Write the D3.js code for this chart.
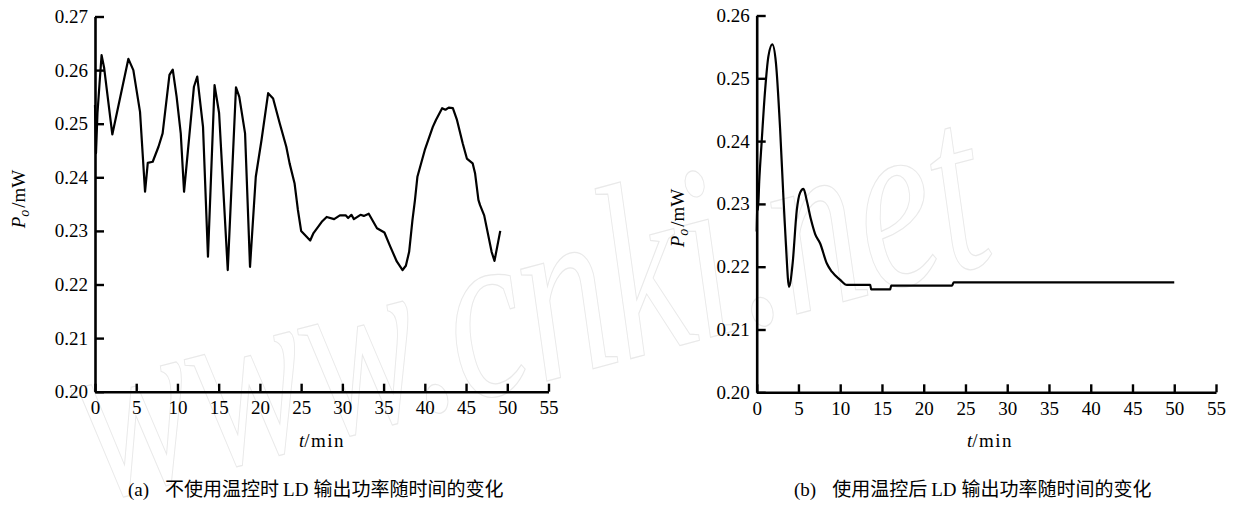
<!DOCTYPE html>
<html>
<head>
<meta charset="utf-8">
<script src="https://cdn.jsdelivr.net/npm/d3@7"></script>
<style>
  body { margin: 0; background: #fff; }
  svg { display: block; }
  .tick text { font-family: "Liberation Serif", "Times New Roman", serif; font-size: 19px; }
</style>
</head>
<body>
<div id="chart"></div>
<script>
// panel (a): without temperature control
const timeA = [0, 0.12, 0.3, 0.55, 0.8, 1.1, 2.1, 4.05, 4.65, 5.46, 6.07, 6.4, 7.0, 7.7, 8.2, 9.03, 9.43, 9.9, 10.4, 10.8,
  12.0, 12.4, 13.1, 13.7, 14.5, 15.05, 16.1, 17.1, 17.5, 18.2, 18.8, 19.5, 20.2, 21.0, 21.6, 22.4, 23.2, 23.6, 24.2, 24.6,
  25.0, 26.1, 26.5, 27.5, 28.1, 29.0, 29.7, 30.4, 30.7, 31.1, 31.4, 32.2, 32.6, 33.2, 34.2, 35.1, 35.8, 36.6, 37.3, 37.7,
  38.1, 38.5, 38.8, 39.1, 40.0, 40.97, 41.35, 42.1, 42.5, 42.9, 43.4, 43.9, 44.6, 45.1, 45.8, 46.1, 46.5, 46.7, 47.2, 48.1,
  48.45, 49.15];
const powerA = [0.2535, 0.2445, 0.2520, 0.2575, 0.2628, 0.2605, 0.2480, 0.2621, 0.2600, 0.2522, 0.2373, 0.2427, 0.2429, 0.2457, 0.2482, 0.2591, 0.2601, 0.2550, 0.2482, 0.2373,
  0.2569, 0.2588, 0.2494, 0.2252, 0.2572, 0.2520, 0.2227, 0.2568, 0.2550, 0.2482, 0.2233, 0.2401, 0.2470, 0.2557, 0.2547, 0.2501, 0.2457, 0.2426, 0.2389, 0.2340,
  0.2300, 0.2282, 0.2296, 0.2317, 0.2326, 0.2322, 0.2329, 0.2329, 0.2324, 0.2330, 0.2322, 0.2330, 0.2328, 0.2332, 0.2305, 0.2297, 0.2271, 0.2243, 0.2227, 0.2235,
  0.2261, 0.2320, 0.2357, 0.2401, 0.2451, 0.2494, 0.2507, 0.2529, 0.2526, 0.2530, 0.2529, 0.2507, 0.2463, 0.2435, 0.2426, 0.2407, 0.2358, 0.2348, 0.2329, 0.2261,
  0.2244, 0.2300];

// panel (b): with temperature control
const timeB = [0, 0.1, 0.15, 0.3, 0.6, 1.0, 1.4, 1.87, 2.3, 2.8, 3.2, 3.5, 3.87, 4.3, 4.8, 5.2, 5.6, 6.0, 6.5, 7.0,
  7.6, 8.4, 9.0, 10.0, 10.8, 13.6, 13.7, 16.0, 16.1, 23.4, 23.6, 50];
const powerB = [0.2256, 0.2315, 0.2290, 0.2335, 0.2400, 0.2480, 0.2535, 0.2554, 0.2525, 0.2420, 0.2310, 0.2235, 0.2168, 0.2205, 0.2290, 0.2318, 0.2324, 0.2305, 0.2275, 0.2252,
  0.2237, 0.2205, 0.2192, 0.2179, 0.2171, 0.2171, 0.2164, 0.2164, 0.2170, 0.2170, 0.2175, 0.2175];

const xTicks = [0, 5, 10, 15, 20, 25, 30, 35, 40, 45, 50, 55];
const yTicksA = [0.20, 0.21, 0.22, 0.23, 0.24, 0.25, 0.26, 0.27];
const yTicksB = [0.20, 0.21, 0.22, 0.23, 0.24, 0.25, 0.26];
const captionA = ["(a)", "不使用温控时", "LD", "输出功率随时间的变化"];
const captionB = ["(b)", "使用温控后", "LD", "输出功率随时间的变化"];

const W = 1238, H = 506;
const serif = "Liberation Serif, Times New Roman, serif";
const cjk = "Noto Sans CJK SC, sans-serif";

const svg = d3.select("#chart").append("svg")
  .attr("width", W).attr("height", H);

// faint site watermark behind the plots
svg.append("text")
  .attr("transform", "translate(96,502) rotate(-15) scale(0.95,1.35)")
  .attr("font-family", serif)
  .attr("font-style", "italic")
  .attr("font-size", 185)
  .attr("fill", "none")
  .attr("stroke", "#e9e9e9")
  .attr("stroke-width", 0.9)
  .text("www.cnki.net");

function drawPanel(cfg) {
  const x = d3.scaleLinear().domain([0, 55]).range(cfg.xRange);
  const y = d3.scaleLinear().domain(cfg.yDomain).range(cfg.yRange);
  const g = svg.append("g");

  const line = d3.line()
    .x((d, i) => x(cfg.t[i]))
    .y(d => y(d))
    .curve(cfg.curve);

  g.append("path")
    .datum(cfg.p)
    .attr("fill", "none")
    .attr("stroke", "#000")
    .attr("stroke-width", 2.2)
    .attr("stroke-linejoin", "round")
    .attr("d", line);

  const xAxis = g.append("g")
    .attr("transform", `translate(0,${cfg.yRange[0]})`)
    .call(d3.axisBottom(x).tickValues(xTicks).tickSize(-8).tickSizeOuter(0).tickPadding(8));
  const yAxis = g.append("g")
    .attr("transform", `translate(${cfg.xRange[0]},0)`)
    .call(d3.axisLeft(y).tickValues(cfg.yTicks).tickFormat(d3.format(".2f")).tickSize(-9).tickSizeOuter(0).tickPadding(7));

  [xAxis, yAxis].forEach(a => {
    a.attr("font-family", serif).attr("font-size", 19);
    a.select(".domain").attr("stroke-width", 2.6);
    a.selectAll(".tick line").attr("stroke-width", 2.4);
    a.selectAll("text").attr("fill", "#000");
  });
  xAxis.selectAll("text").attr("dy", "0.75em");

  // axis titles
  const xl = g.append("text")
    .attr("x", cfg.xLabel[0]).attr("y", cfg.xLabel[1])
    .attr("text-anchor", "middle")
    .attr("font-family", serif).attr("font-size", 19);
  xl.append("tspan").attr("font-style", "italic").text("t");
  xl.append("tspan").attr("letter-spacing", 1.5).text("/min");

  const yl = g.append("text")
    .attr("transform", `translate(${cfg.yLabel[0]},${cfg.yLabel[1]}) rotate(-90)`)
    .attr("text-anchor", "middle")
    .attr("font-family", serif).attr("font-size", 19);
  yl.append("tspan").attr("font-style", "italic").text("P");
  yl.append("tspan").attr("font-style", "italic").attr("font-size", 14).attr("dy", 4).text("o");
  yl.append("tspan").attr("dy", -4).attr("dx", 2).text("/mW");

  // caption under the panel
  const cap = g.append("text")
    .attr("x", cfg.caption[0]).attr("y", cfg.caption[1])
    .attr("font-size", 19);
  cap.append("tspan").attr("font-family", serif).text(cfg.capText[0]);
  cap.append("tspan").attr("font-family", cjk).attr("dx", 16).text(cfg.capText[1]);
  cap.append("tspan").attr("font-family", serif).attr("dx", 4).text(cfg.capText[2]);
  cap.append("tspan").attr("font-family", cjk).attr("dx", 5).text(cfg.capText[3]);
}

drawPanel({
  t: timeA, p: powerA, curve: d3.curveLinear,
  xRange: [95, 548.5], yDomain: [0.20, 0.27], yRange: [391.7, 16.5], yTicks: yTicksA,
  xLabel: [322, 447], yLabel: [25, 199], caption: [128, 496], capText: captionA
});

drawPanel({
  t: timeB, p: powerB, curve: d3.curveMonotoneX,
  xRange: [756.7, 1216], yDomain: [0.20, 0.26], yRange: [392.3, 15.5], yTicks: yTicksB,
  xLabel: [990, 447], yLabel: [684, 218], caption: [794, 496], capText: captionB
});
</script>
</body>
</html>
